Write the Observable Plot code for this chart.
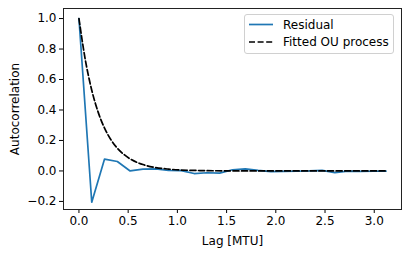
<!DOCTYPE html>
<html>
<head>
<meta charset="utf-8">
<script src="https://cdn.jsdelivr.net/npm/d3@7"></script>
<script src="https://cdn.jsdelivr.net/npm/@observablehq/plot@0.6"></script>
<style>
  html, body { margin: 0; padding: 0; background: #fff; }
  #chart { position: relative; width: 409px; height: 255px; }
</style>
</head>
<body>
<div id="chart"></div>
<script>
// Residual autocorrelation (lags in MTU)
const residualLag = [0, 0.13, 0.26, 0.39, 0.52, 0.65, 0.78, 0.91, 1.04, 1.17, 1.30, 1.43, 1.56, 1.69, 1.82, 1.95, 2.08, 2.21, 2.34, 2.47, 2.60, 2.73, 2.86, 2.99, 3.12];
const residualAcf = [1.0, -0.205, 0.078, 0.062, 0.0, 0.012, 0.013, 0.003, 0.002, -0.017, -0.012, -0.014, 0.008, 0.014, 0.004, -0.004, -0.003, -0.002, 0.0, 0.004, -0.011, -0.001, -0.003, -0.002, -0.001];

// Fitted OU process curve
const ouLag = [0, 0.065, 0.13, 0.195, 0.26, 0.325, 0.39, 0.455, 0.52, 0.65, 0.78, 0.91, 1.04, 1.30, 1.56, 2.0, 2.5, 3.12];
const ouAcf = [1.0, 0.728, 0.53, 0.386, 0.281, 0.205, 0.149, 0.109, 0.079, 0.042, 0.022, 0.012, 0.006, 0.002, 0.0005, 0.0, 0.0, 0.0];

const xTicks = [0, 0.5, 1.0, 1.5, 2.0, 2.5, 3.0];
const yTicks = [-0.2, 0, 0.2, 0.4, 0.6, 0.8, 1.0];

const seriesNames = ["Residual", "Fitted OU process"];

const residual = residualLag.map((t, i) => ({t, v: residualAcf[i]}));
const ou = ouLag.map((t, i) => ({t, v: ouAcf[i]}));

const fmt = d3.format(".1f");

const plot = Plot.plot({
  width: 409,
  height: 255,
  marginLeft: 63,
  marginRight: 8,
  marginTop: 8,
  marginBottom: 46,
  style: {fontFamily: "DejaVu Sans", fontSize: "12px", color: "black", background: "white"},
  x: {domain: [-0.157, 3.277]},
  y: {domain: [-0.253, 1.066]},
  marks: [
    Plot.line(residual, {x: "t", y: "v", stroke: "#1f77b4", strokeWidth: 1.7}),
    Plot.line(ou, {x: "t", y: "v", stroke: "black", strokeWidth: 1.7, strokeDasharray: "6,2.6", curve: "monotone-x"}),
    Plot.axisX({ticks: xTicks, tickFormat: fmt, tickSize: 4, tickPadding: 3, stroke: "black",
      label: "Lag [MTU]", labelAnchor: "center", labelArrow: "none", labelOffset: 35}),
    Plot.axisY({ticks: yTicks, tickFormat: fmt, tickSize: 4, tickPadding: 3, stroke: "black",
      label: "Autocorrelation", labelAnchor: "center", labelArrow: "none", labelOffset: 53}),
    Plot.frame({stroke: "#222", strokeWidth: 1})
  ]
});

document.getElementById("chart").appendChild(plot);

// Legend (matplotlib-style box, upper right)
const svg = d3.select(plot);
const lg = svg.append("g").attr("font-family", "DejaVu Sans").attr("font-size", "12px").attr("text-anchor", "start");
lg.append("rect").attr("x", 244.5).attr("y", 14.5).attr("width", 149).attr("height", 39)
  .attr("rx", 2.5).attr("fill", "white").attr("fill-opacity", 0.8).attr("stroke", "#d0d0d0");
const styles = [{stroke: "#1f77b4", dash: null}, {stroke: "black", dash: "6,2.6"}];
seriesNames.forEach((name, i) => {
  const y = 24.5 + i * 17.5;
  lg.append("line").attr("x1", 249).attr("x2", 273).attr("y1", y).attr("y2", y)
    .attr("stroke", styles[i].stroke).attr("stroke-width", 1.7)
    .attr("stroke-dasharray", styles[i].dash);
  lg.append("text").attr("x", 283).attr("y", y).attr("dy", "0.35em").attr("fill", "black")
    .attr("text-anchor", "start").text(name);
});
</script>
</body>
</html>
